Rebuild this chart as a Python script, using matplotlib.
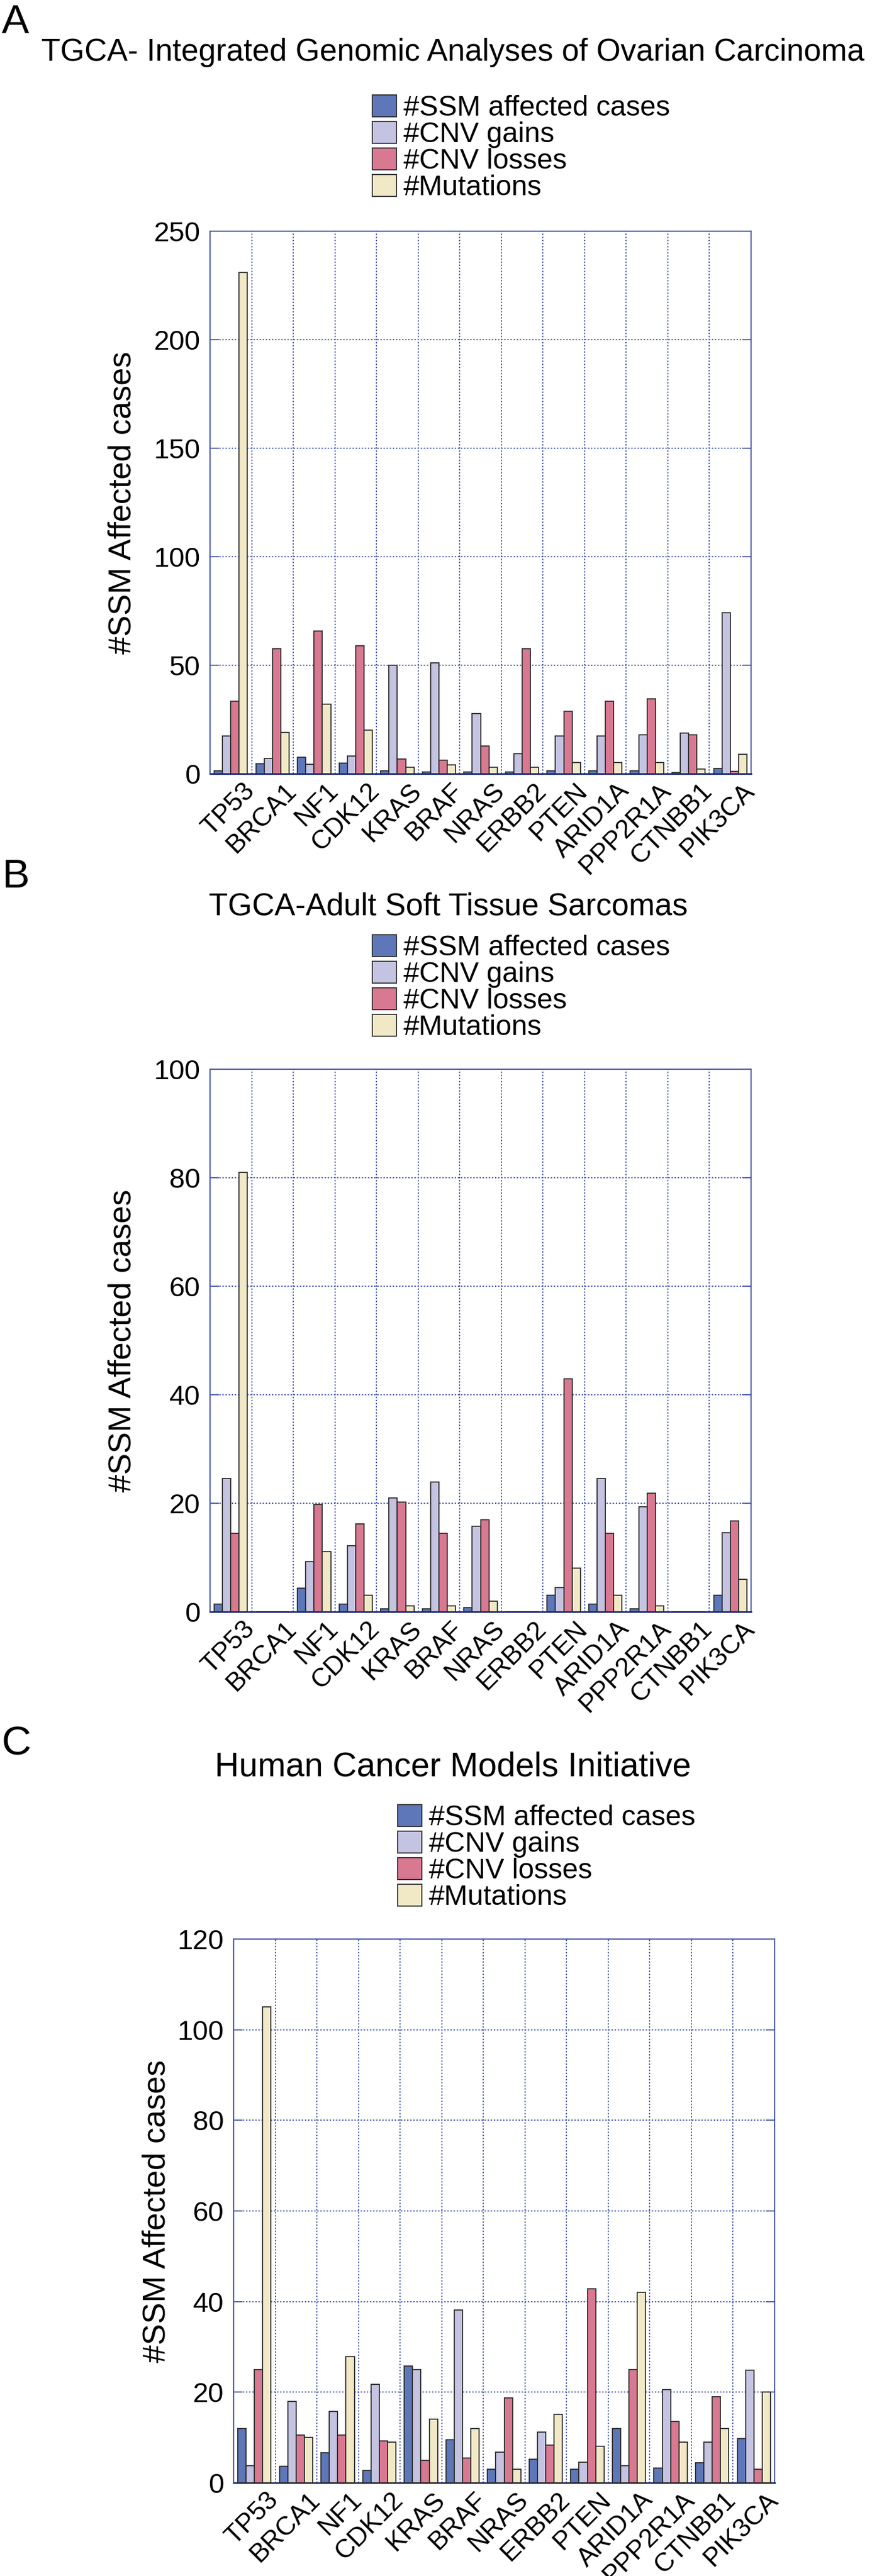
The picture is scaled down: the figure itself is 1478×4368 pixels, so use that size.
import numpy as np
import matplotlib
matplotlib.use('Agg')
import matplotlib.pyplot as plt

plt.rcParams['font.family'] = ['Liberation Sans', 'DejaVu Sans']

genes = ['TP53', 'BRCA1', 'NF1', 'CDK12', 'KRAS', 'BRAF', 'NRAS', 'ERBB2',
         'PTEN', 'ARID1A', 'PPP2R1A', 'CTNBB1', 'PIK3CA']
series_names = ['#SSM affected cases', '#CNV gains', '#CNV losses', '#Mutations']

# panel A - ovarian carcinoma
ssm_a = [1.3, 4.5, 7.5, 4.8, 1.3, 0.8, 0.9, 0.9, 1.3, 1.3, 1.3, 0.6, 2.4]
gain_a = [17.4, 7.0, 4.3, 8.1, 50.0, 51.2, 27.6, 9.2, 17.4, 17.4, 17.8, 18.8, 74.3]
loss_a = [33.5, 57.6, 65.8, 59.0, 6.8, 6.2, 12.7, 57.5, 28.7, 33.5, 34.5, 17.8, 1.1]
mut_a = [231, 19.0, 32.0, 20.0, 3.0, 4.0, 3.0, 3.0, 5.1, 5.1, 5.1, 2.1, 9.1]

# panel B - soft tissue sarcomas
ssm_b = [1.4, 0, 4.3, 1.4, 0.5, 0.5, 0.8, 0, 3.0, 1.4, 0.5, 0, 3.0]
gain_b = [24.6, 0, 9.2, 12.2, 21.0, 23.9, 15.8, 0, 4.5, 24.6, 19.4, 0, 14.6]
loss_b = [14.5, 0, 19.8, 16.2, 20.2, 14.5, 17.0, 0, 42.9, 14.5, 21.8, 0, 16.7]
mut_b = [81, 0, 11.1, 3.0, 1.1, 1.1, 2.0, 0, 8.0, 3.0, 1.1, 0, 6.0]

# panel C - HCMI
ssm_c = [12.0, 3.7, 6.7, 2.7, 25.8, 9.5, 3.0, 5.2, 3.0, 12.0, 3.3, 4.4, 9.8]
gain_c = [3.8, 18.0, 15.7, 21.7, 25.0, 38.1, 6.8, 11.2, 4.5, 3.8, 20.6, 9.0, 24.8]
loss_c = [25.0, 10.5, 10.5, 9.3, 5.0, 5.5, 18.8, 8.3, 42.8, 25.0, 13.5, 19.0, 3.0]
mut_c = [105, 10.0, 27.9, 9.0, 14.0, 12.0, 3.0, 15.1, 8.1, 42.0, 9.0, 12.0, 20.0]

colors = ['#5d77b9', '#c4c3e1', '#d97891', '#f1e9c6']
grid_col = '#3f55ad'
spine_col = '#4a5aa8'

W, H = 1478, 4368
fig = plt.figure(figsize=(W / 100, H / 100), dpi=100)


def panel(box, data, ymax, ystep, letter, letter_y, title, title_x, title_y,
          title_size, leg_x, leg_y, ylab_x):
    l, t, r, b = box
    ax = fig.add_axes([l / W, 1 - b / H, (r - l) / W, (b - t) / H])
    x = np.arange(len(genes))
    handles = []
    for k, vals in enumerate(data):
        h = ax.bar(x - 0.3 + 0.2 * k, vals, width=0.2, color=colors[k],
                   edgecolor='#2b2b2b', linewidth=1.3, zorder=3)
        handles.append(h)
    ax.set_xlim(-0.5, len(genes) - 0.5)
    ax.set_ylim(0, ymax)
    ax.set_yticks(np.arange(0, ymax + 1, ystep))
    ax.set_xticks(x)
    ax.set_xticks(x[:-1] + 0.5, minor=True)
    ax.set_xticklabels([])
    # gene names, rotated, placed by hand so the offset sticks
    for i, g in enumerate(genes):
        ax.annotate(g, xy=(i, 0), xycoords=('data', 'axes fraction'),
                    xytext=(14, -6), textcoords='offset points',
                    rotation=45, rotation_mode='anchor', ha='right', va='top',
                    fontsize=32)
    ax.tick_params(axis='x', which='both', length=0)
    ax.tick_params(axis='y', direction='in', length=11, width=1.3,
                   color=spine_col, labelsize=34, pad=12, right=True)
    ax.grid(axis='y', which='major', color=grid_col, linestyle=(0, (1.2, 1.5)),
            linewidth=1.4, zorder=0)
    ax.grid(axis='x', which='minor', color=grid_col, linestyle=(0, (1.2, 1.5)),
            linewidth=1.4, zorder=0)
    ax.set_axisbelow(True)
    for side in ['left', 'right', 'top']:
        ax.spines[side].set_color(spine_col)
        ax.spines[side].set_linewidth(1.5)
    ax.spines['bottom'].set_color('#27336f')
    ax.spines['bottom'].set_linewidth(2)
    ax.set_ylabel('#SSM Affected cases', fontsize=39)
    ax.yaxis.set_label_coords((ylab_x - l) / (r - l), 0.5)

    fig.text(3 / W, 1 - letter_y / H, letter, fontsize=50, va='baseline')
    fig.text(title_x / W, 1 - title_y / H, title, fontsize=title_size,
             ha='center', va='baseline')
    ax.legend(handles, series_names, loc='upper left',
              bbox_to_anchor=(leg_x / W, 1 - leg_y / H),
              bbox_transform=fig.transFigure, frameon=False, fontsize=34.5,
              handlelength=0.85, handleheight=0.81, handletextpad=0.25,
              labelspacing=0.0, borderpad=0, borderaxespad=0)
    return ax


panel((356, 392, 1273, 1312), [ssm_a, gain_a, loss_a, mut_a], 250, 50,
      'A', 56, 'TGCA- Integrated Genomic Analyses of Ovarian Carcinoma', 768, 103,
      38, 631, 161, 232)
panel((356, 1813, 1273, 2733), [ssm_b, gain_b, loss_b, mut_b], 100, 20,
      'B', 1505, 'TGCA-Adult Soft Tissue Sarcomas', 760, 1551,
      38, 631, 1585, 232)
panel((396, 3288, 1313, 4210), [ssm_c, gain_c, loss_c, mut_c], 120, 20,
      'C', 2975, 'Human Cancer Models Initiative', 768, 3012,
      41, 674, 3060, 290)

fig.savefig('out.png', dpi=100, facecolor='white')
